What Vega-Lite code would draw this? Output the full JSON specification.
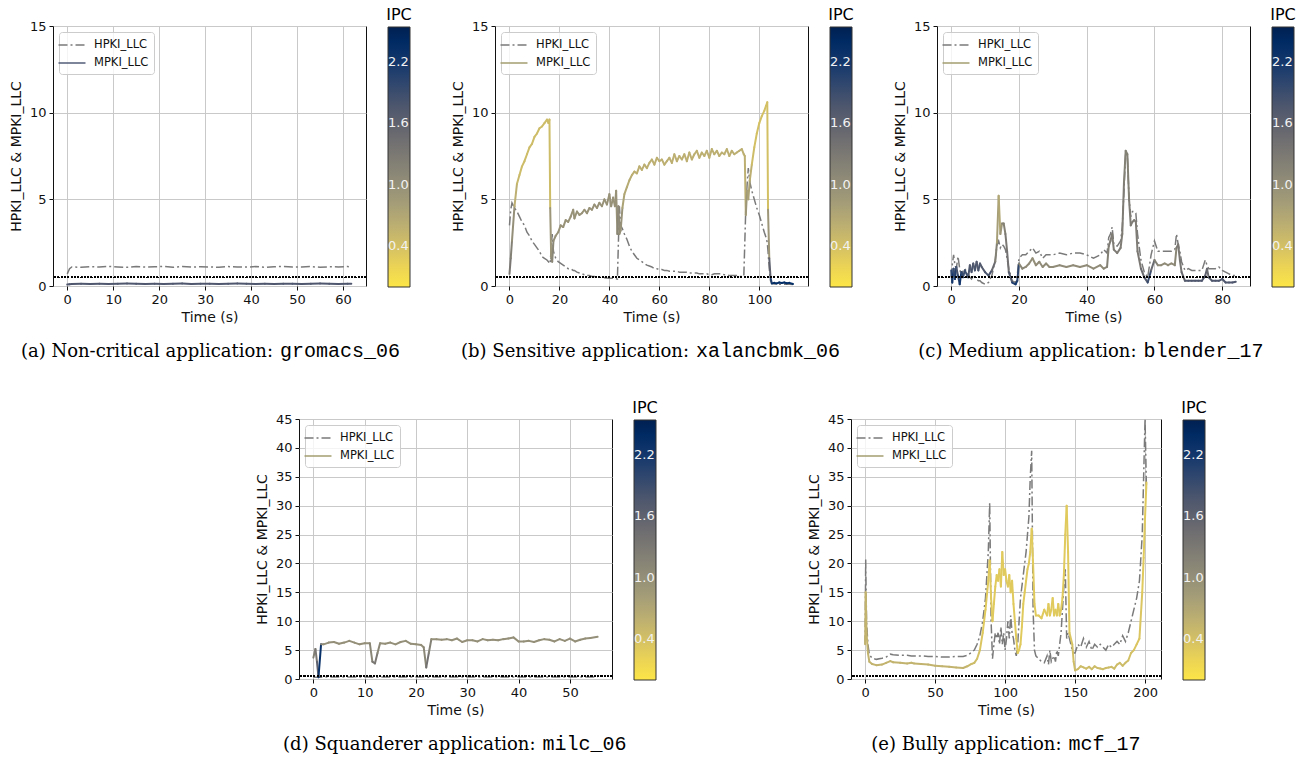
{
  "$schema": "https://vega.github.io/schema/vega-lite/v6.json",
  "padding": {"left": 8, "top": 6, "right": 5, "bottom": 5},
  "background": "white",
  "config": {
    "font": "DejaVu Sans",
    "axis": {"labelFont": "DejaVu Sans", "labelFontSize": 13, "labelColor": "#111", "titleFont": "DejaVu Sans", "titleFontSize": 14, "titleFontWeight": "normal", "titleColor": "#111", "domain": false, "tickColor": "#111", "tickSize": 4, "tickWidth": 1, "gridColor": "#c9c9c9", "gridWidth": 1, "labelPadding": 3, "titlePadding": 4, "labelFlush": false, "labelOverlap": false, "tickCount": 12},
    "axisY": {"titlePadding": 6},
    "legend": {"labelFont": "DejaVu Sans", "titleFont": "DejaVu Sans", "titleFontWeight": "normal", "titleColor": "#000", "padding": 0}
  },
  "datasets": {
    "a": [
      {"t":0,"h":0.7,"m":0.08,"ipc":1.75},{"t":0.5,"h":1.0,"m":0.1,"ipc":1.75},{"t":1,"h":1.1,"m":0.12,"ipc":1.75},{"t":3,"h":1.08,"m":0.13,"ipc":1.75},{"t":5,"h":1.12,"m":0.12,"ipc":1.75},{"t":7,"h":1.09,"m":0.13,"ipc":1.75},{"t":9,"h":1.13,"m":0.12,"ipc":1.75},{"t":11,"h":1.1,"m":0.13,"ipc":1.75},{"t":13,"h":1.08,"m":0.14,"ipc":1.75},{"t":15,"h":1.12,"m":0.13,"ipc":1.75},{"t":17,"h":1.09,"m":0.12,"ipc":1.75},{"t":19,"h":1.11,"m":0.13,"ipc":1.75},{"t":21,"h":1.13,"m":0.12,"ipc":1.75},{"t":23,"h":1.08,"m":0.13,"ipc":1.75},{"t":25,"h":1.12,"m":0.14,"ipc":1.75},{"t":27,"h":1.09,"m":0.12,"ipc":1.75},{"t":29,"h":1.11,"m":0.13,"ipc":1.75},{"t":31,"h":1.1,"m":0.13,"ipc":1.75},{"t":33,"h":1.08,"m":0.12,"ipc":1.75},{"t":35,"h":1.12,"m":0.13,"ipc":1.75},{"t":37,"h":1.1,"m":0.14,"ipc":1.75},{"t":39,"h":1.09,"m":0.13,"ipc":1.75},{"t":41,"h":1.12,"m":0.12,"ipc":1.75},{"t":43,"h":1.08,"m":0.13,"ipc":1.75},{"t":45,"h":1.11,"m":0.12,"ipc":1.75},{"t":47,"h":1.13,"m":0.13,"ipc":1.75},{"t":49,"h":1.09,"m":0.13,"ipc":1.75},{"t":51,"h":1.1,"m":0.12,"ipc":1.75},{"t":53,"h":1.12,"m":0.13,"ipc":1.75},{"t":55,"h":1.08,"m":0.14,"ipc":1.75},{"t":57,"h":1.11,"m":0.13,"ipc":1.75},{"t":59,"h":1.1,"m":0.12,"ipc":1.75},{"t":61,"h":1.12,"m":0.13,"ipc":1.75},{"t":61.8,"h":1.1,"m":0.13,"ipc":1.75}
    ],
    "b": [
      {"t":0,"h":3.5,"m":0.7,"ipc":1.3},{"t":0.5,"h":4.4,"m":1.6,"ipc":1.2},{"t":1,"h":4.8,"m":2.6,"ipc":1.0},{"t":2,"h":4.5,"m":4.6,"ipc":0.6},{"t":3,"h":4.3,"m":5.9,"ipc":0.5},{"t":4,"h":4.0,"m":6.4,"ipc":0.45},{"t":5,"h":3.7,"m":6.9,"ipc":0.45},{"t":6,"h":3.5,"m":7.2,"ipc":0.45},{"t":7,"h":3.1,"m":7.6,"ipc":0.45},{"t":8,"h":2.9,"m":8.0,"ipc":0.45},{"t":9,"h":2.6,"m":8.2,"ipc":0.45},{"t":10,"h":2.4,"m":8.6,"ipc":0.45},{"t":11,"h":2.2,"m":8.8,"ipc":0.45},{"t":12,"h":2.0,"m":9.1,"ipc":0.45},{"t":13,"h":1.7,"m":9.2,"ipc":0.45},{"t":14,"h":1.6,"m":9.4,"ipc":0.45},{"t":15,"h":1.5,"m":9.6,"ipc":0.45},{"t":15.6,"h":1.4,"m":9.4,"ipc":0.45},{"t":16,"h":1.3,"m":9.6,"ipc":0.45},{"t":16.3,"h":1.3,"m":4.5,"ipc":0.9},{"t":16.7,"h":2.2,"m":1.6,"ipc":1.1},{"t":17.1,"h":3.0,"m":1.4,"ipc":1.1},{"t":17.6,"h":2.0,"m":2.6,"ipc":1.0},{"t":18.5,"h":1.6,"m":2.9,"ipc":0.95},{"t":19.5,"h":1.4,"m":3.1,"ipc":0.95},{"t":20.5,"h":1.3,"m":3.5,"ipc":0.95},{"t":21.5,"h":1.2,"m":3.4,"ipc":0.95},{"t":22.5,"h":1.1,"m":3.8,"ipc":0.95},{"t":23.5,"h":1.0,"m":3.7,"ipc":0.95},{"t":24.5,"h":1.0,"m":4.0,"ipc":0.95},{"t":25.5,"h":0.9,"m":4.4,"ipc":0.95},{"t":26,"h":0.9,"m":3.9,"ipc":0.95},{"t":27,"h":0.8,"m":4.3,"ipc":0.95},{"t":28,"h":0.75,"m":4.1,"ipc":0.95},{"t":29,"h":0.7,"m":4.2,"ipc":0.95},{"t":30,"h":0.65,"m":4.4,"ipc":0.95},{"t":31,"h":0.6,"m":4.2,"ipc":0.95},{"t":32,"h":0.6,"m":4.5,"ipc":0.95},{"t":33,"h":0.55,"m":4.4,"ipc":0.95},{"t":34,"h":0.55,"m":4.7,"ipc":0.95},{"t":35,"h":0.5,"m":4.5,"ipc":0.95},{"t":36,"h":0.5,"m":4.8,"ipc":0.95},{"t":37,"h":0.5,"m":4.6,"ipc":0.95},{"t":38,"h":0.48,"m":5.0,"ipc":0.95},{"t":39,"h":0.46,"m":4.7,"ipc":0.95},{"t":40,"h":0.45,"m":5.3,"ipc":0.95},{"t":40.7,"h":0.45,"m":4.6,"ipc":0.95},{"t":41.5,"h":0.44,"m":5.1,"ipc":0.95},{"t":42.2,"h":0.43,"m":4.6,"ipc":0.95},{"t":42.7,"h":0.42,"m":5.5,"ipc":0.95},{"t":43.2,"h":0.4,"m":3.0,"ipc":1.1},{"t":43.6,"h":2.5,"m":4.6,"ipc":1.05},{"t":44,"h":4.6,"m":3.0,"ipc":1.0},{"t":44.5,"h":3.5,"m":3.2,"ipc":0.95},{"t":45.2,"h":3.3,"m":4.5,"ipc":0.75},{"t":46,"h":3.0,"m":5.3,"ipc":0.7},{"t":47,"h":2.7,"m":5.7,"ipc":0.65},{"t":48,"h":2.3,"m":6.1,"ipc":0.65},{"t":49,"h":2.0,"m":6.4,"ipc":0.6},{"t":50,"h":1.8,"m":6.6,"ipc":0.6},{"t":51,"h":1.6,"m":6.5,"ipc":0.6},{"t":52,"h":1.5,"m":6.9,"ipc":0.6},{"t":53,"h":1.4,"m":6.7,"ipc":0.6},{"t":54,"h":1.3,"m":7.0,"ipc":0.6},{"t":55,"h":1.2,"m":6.8,"ipc":0.6},{"t":56,"h":1.15,"m":7.1,"ipc":0.6},{"t":57,"h":1.1,"m":7.3,"ipc":0.6},{"t":58,"h":1.0,"m":7.0,"ipc":0.6},{"t":59,"h":1.0,"m":7.4,"ipc":0.6},{"t":60,"h":0.95,"m":7.2,"ipc":0.6},{"t":61,"h":0.95,"m":7.3,"ipc":0.6},{"t":62,"h":0.9,"m":7.0,"ipc":0.6},{"t":63,"h":0.9,"m":7.2,"ipc":0.6},{"t":64,"h":0.85,"m":7.4,"ipc":0.6},{"t":65,"h":0.85,"m":7.1,"ipc":0.6},{"t":66,"h":0.85,"m":7.6,"ipc":0.6},{"t":67,"h":0.85,"m":7.2,"ipc":0.6},{"t":68,"h":0.8,"m":7.5,"ipc":0.6},{"t":69,"h":0.8,"m":7.3,"ipc":0.6},{"t":70,"h":0.8,"m":7.6,"ipc":0.6},{"t":71,"h":0.8,"m":7.2,"ipc":0.6},{"t":72,"h":0.75,"m":7.7,"ipc":0.6},{"t":73,"h":0.75,"m":7.3,"ipc":0.6},{"t":74,"h":0.75,"m":7.6,"ipc":0.6},{"t":75,"h":0.75,"m":7.8,"ipc":0.6},{"t":76,"h":0.7,"m":7.4,"ipc":0.6},{"t":77,"h":0.7,"m":7.7,"ipc":0.6},{"t":78,"h":0.7,"m":7.5,"ipc":0.6},{"t":79,"h":0.7,"m":7.8,"ipc":0.6},{"t":80,"h":0.65,"m":7.4,"ipc":0.6},{"t":81,"h":0.65,"m":7.9,"ipc":0.6},{"t":82,"h":0.7,"m":7.6,"ipc":0.6},{"t":83,"h":0.7,"m":7.8,"ipc":0.6},{"t":84,"h":0.7,"m":7.5,"ipc":0.6},{"t":85,"h":0.7,"m":7.7,"ipc":0.6},{"t":86,"h":0.65,"m":7.6,"ipc":0.6},{"t":87,"h":0.65,"m":7.9,"ipc":0.6},{"t":88,"h":0.6,"m":7.5,"ipc":0.6},{"t":89,"h":0.6,"m":7.8,"ipc":0.6},{"t":90,"h":0.6,"m":7.6,"ipc":0.6},{"t":91,"h":0.6,"m":7.7,"ipc":0.6},{"t":92,"h":0.55,"m":7.8,"ipc":0.6},{"t":93,"h":0.55,"m":7.9,"ipc":0.6},{"t":93.8,"h":0.55,"m":7.6,"ipc":0.6},{"t":94.2,"h":2.5,"m":7.5,"ipc":0.6},{"t":94.6,"h":4.5,"m":4.1,"ipc":0.9},{"t":95.1,"h":5.8,"m":5.5,"ipc":0.8},{"t":95.6,"h":6.8,"m":5.0,"ipc":0.75},{"t":96.2,"h":6.0,"m":6.1,"ipc":0.6},{"t":97,"h":5.5,"m":7.0,"ipc":0.45},{"t":98,"h":5.0,"m":8.0,"ipc":0.4},{"t":99,"h":4.5,"m":8.8,"ipc":0.4},{"t":100,"h":4.1,"m":9.4,"ipc":0.4},{"t":101,"h":3.6,"m":9.8,"ipc":0.4},{"t":102,"h":3.1,"m":10.1,"ipc":0.4},{"t":102.7,"h":2.8,"m":10.4,"ipc":0.4},{"t":103.2,"h":2.5,"m":10.6,"ipc":0.4},{"t":103.5,"h":2.0,"m":4.4,"ipc":0.9},{"t":104,"h":1.0,"m":1.6,"ipc":1.6},{"t":104.5,"h":0.3,"m":0.5,"ipc":2.1},{"t":105,"h":0.15,"m":0.15,"ipc":2.3},{"t":106,"h":0.12,"m":0.18,"ipc":2.35},{"t":107,"h":0.12,"m":0.15,"ipc":2.35},{"t":108,"h":0.1,"m":0.2,"ipc":2.35},{"t":109,"h":0.1,"m":0.17,"ipc":2.35},{"t":110,"h":0.1,"m":0.2,"ipc":2.35},{"t":111,"h":0.1,"m":0.16,"ipc":2.35},{"t":112,"h":0.1,"m":0.18,"ipc":2.35},{"t":113.5,"h":0.08,"m":0.12,"ipc":2.35}
    ],
    "c": [
      {"t":0,"h":0.5,"m":0.9,"ipc":2.0},{"t":0.3,"h":1.2,"m":0.2,"ipc":2.2},{"t":0.7,"h":1.8,"m":1.0,"ipc":1.9},{"t":1.1,"h":1.2,"m":0.4,"ipc":2.1},{"t":1.5,"h":1.0,"m":1.1,"ipc":1.8},{"t":2,"h":1.7,"m":0.6,"ipc":2.0},{"t":2.5,"h":1.0,"m":0.1,"ipc":2.2},{"t":3,"h":0.5,"m":0.8,"ipc":2.0},{"t":3.5,"h":0.9,"m":0.5,"ipc":1.9},{"t":4,"h":1.0,"m":0.9,"ipc":1.9},{"t":5,"h":0.7,"m":0.5,"ipc":1.8},{"t":5.5,"h":0.5,"m":1.2,"ipc":1.7},{"t":6,"h":0.4,"m":0.8,"ipc":1.8},{"t":6.5,"h":0.6,"m":1.3,"ipc":1.7},{"t":7,"h":0.5,"m":0.9,"ipc":1.8},{"t":7.5,"h":0.4,"m":1.4,"ipc":1.7},{"t":8,"h":0.3,"m":0.9,"ipc":1.8},{"t":8.5,"h":0.3,"m":1.3,"ipc":1.7},{"t":9,"h":0.2,"m":1.1,"ipc":1.7},{"t":10,"h":0.1,"m":0.8,"ipc":1.8},{"t":11,"h":0.2,"m":0.6,"ipc":1.8},{"t":12,"h":0.6,"m":0.9,"ipc":1.5},{"t":13,"h":1.5,"m":1.4,"ipc":1.2},{"t":13.5,"h":2.4,"m":2.5,"ipc":0.8},{"t":14,"h":2.6,"m":5.2,"ipc":0.7},{"t":14.5,"h":2.2,"m":3.0,"ipc":0.9},{"t":15,"h":2.4,"m":3.6,"ipc":1.1},{"t":15.5,"h":2.3,"m":3.6,"ipc":1.2},{"t":16,"h":2.1,"m":3.0,"ipc":1.3},{"t":16.5,"h":1.6,"m":2.0,"ipc":1.4},{"t":17,"h":1.0,"m":0.8,"ipc":1.7},{"t":18,"h":0.3,"m":0.2,"ipc":2.1},{"t":19,"h":0.2,"m":0.1,"ipc":2.2},{"t":19.5,"h":0.6,"m":0.3,"ipc":2.0},{"t":20,"h":1.6,"m":1.3,"ipc":1.1},{"t":21,"h":1.8,"m":1.0,"ipc":1.1},{"t":22,"h":1.8,"m":1.1,"ipc":1.05},{"t":23,"h":2.0,"m":1.3,"ipc":1.05},{"t":24,"h":2.2,"m":1.6,"ipc":1.0},{"t":25,"h":1.9,"m":1.2,"ipc":1.05},{"t":26,"h":2.0,"m":1.4,"ipc":1.05},{"t":27,"h":1.6,"m":1.1,"ipc":1.05},{"t":28,"h":1.8,"m":1.3,"ipc":1.05},{"t":29,"h":1.8,"m":1.1,"ipc":1.05},{"t":30,"h":1.8,"m":1.1,"ipc":1.05},{"t":32,"h":1.9,"m":1.2,"ipc":1.05},{"t":34,"h":1.8,"m":1.1,"ipc":1.05},{"t":36,"h":1.9,"m":1.2,"ipc":1.05},{"t":38,"h":1.9,"m":1.1,"ipc":1.05},{"t":40,"h":1.8,"m":1.2,"ipc":1.05},{"t":42,"h":1.6,"m":1.0,"ipc":1.05},{"t":44,"h":1.8,"m":1.2,"ipc":1.05},{"t":45,"h":2.1,"m":1.0,"ipc":1.1},{"t":46,"h":1.9,"m":1.1,"ipc":1.2},{"t":46.5,"h":2.8,"m":2.3,"ipc":1.25},{"t":47,"h":3.0,"m":2.6,"ipc":1.25},{"t":47.5,"h":3.4,"m":3.0,"ipc":1.25},{"t":48,"h":2.4,"m":2.1,"ipc":1.25},{"t":49,"h":2.3,"m":1.9,"ipc":1.25},{"t":50,"h":2.6,"m":2.2,"ipc":1.25},{"t":50.5,"h":3.4,"m":3.0,"ipc":1.25},{"t":51,"h":5.5,"m":6.0,"ipc":1.2},{"t":51.5,"h":7.7,"m":7.8,"ipc":1.2},{"t":52,"h":7.5,"m":7.6,"ipc":1.2},{"t":52.5,"h":5.0,"m":5.0,"ipc":1.25},{"t":53,"h":4.0,"m":3.5,"ipc":1.25},{"t":53.5,"h":4.3,"m":3.7,"ipc":1.25},{"t":54,"h":4.3,"m":3.8,"ipc":1.25},{"t":54.5,"h":4.2,"m":3.7,"ipc":1.25},{"t":55,"h":3.0,"m":2.0,"ipc":1.3},{"t":56,"h":1.5,"m":1.0,"ipc":1.5},{"t":57,"h":0.8,"m":0.5,"ipc":1.7},{"t":58,"h":0.5,"m":0.2,"ipc":1.9},{"t":59,"h":1.8,"m":0.9,"ipc":1.5},{"t":60,"h":2.6,"m":1.5,"ipc":1.2},{"t":61,"h":2.0,"m":1.2,"ipc":1.05},{"t":62,"h":2.0,"m":1.2,"ipc":1.05},{"t":63,"h":2.0,"m":1.3,"ipc":1.05},{"t":64,"h":2.0,"m":1.2,"ipc":1.05},{"t":65,"h":2.0,"m":1.3,"ipc":1.05},{"t":66,"h":2.1,"m":1.2,"ipc":1.1},{"t":66.5,"h":3.0,"m":2.2,"ipc":1.3},{"t":67,"h":2.4,"m":2.4,"ipc":1.3},{"t":67.5,"h":2.0,"m":1.5,"ipc":1.35},{"t":68,"h":1.4,"m":0.8,"ipc":1.5},{"t":69,"h":0.9,"m":0.3,"ipc":1.7},{"t":70,"h":1.0,"m":0.3,"ipc":1.75},{"t":71,"h":0.9,"m":0.3,"ipc":1.75},{"t":72,"h":0.9,"m":0.3,"ipc":1.75},{"t":73,"h":0.9,"m":0.3,"ipc":1.75},{"t":74,"h":0.9,"m":0.3,"ipc":1.75},{"t":75,"h":1.5,"m":0.6,"ipc":1.6},{"t":75.5,"h":1.2,"m":1.0,"ipc":1.5},{"t":76,"h":1.0,"m":0.5,"ipc":1.7},{"t":77,"h":1.0,"m":0.3,"ipc":1.75},{"t":78,"h":1.0,"m":0.3,"ipc":1.75},{"t":79,"h":1.1,"m":0.3,"ipc":1.75},{"t":80,"h":0.9,"m":0.4,"ipc":1.75},{"t":81,"h":0.8,"m":0.2,"ipc":1.75},{"t":82,"h":0.7,"m":0.2,"ipc":1.75},{"t":83,"h":0.6,"m":0.2,"ipc":1.75},{"t":84,"h":0.6,"m":0.25,"ipc":1.75}
    ],
    "d": [
      {"t":0,"h":0.3,"m":3.7,"ipc":1.2},{"t":0.4,"h":0.3,"m":5.2,"ipc":1.3},{"t":0.7,"h":0.3,"m":3.0,"ipc":1.6},{"t":1.0,"h":0.3,"m":0.3,"ipc":2.3},{"t":1.5,"h":0.3,"m":6.0,"ipc":1.1},{"t":2,"h":0.35,"m":6.0,"ipc":1.0},{"t":3,"h":0.35,"m":6.3,"ipc":1.0},{"t":4,"h":0.35,"m":6.4,"ipc":1.0},{"t":5,"h":0.35,"m":6.1,"ipc":1.0},{"t":6,"h":0.35,"m":6.3,"ipc":1.0},{"t":7,"h":0.35,"m":6.6,"ipc":1.0},{"t":8,"h":0.35,"m":6.3,"ipc":1.0},{"t":9,"h":0.35,"m":6.0,"ipc":1.0},{"t":10,"h":0.35,"m":6.2,"ipc":1.0},{"t":11,"h":0.35,"m":6.2,"ipc":1.1},{"t":11.5,"h":0.3,"m":3.0,"ipc":1.3},{"t":12,"h":0.3,"m":2.7,"ipc":1.3},{"t":12.5,"h":0.3,"m":4.5,"ipc":1.1},{"t":13,"h":0.35,"m":6.2,"ipc":1.0},{"t":14,"h":0.35,"m":6.1,"ipc":1.0},{"t":15,"h":0.35,"m":6.3,"ipc":1.0},{"t":16,"h":0.35,"m":6.0,"ipc":1.0},{"t":17,"h":0.35,"m":6.4,"ipc":1.0},{"t":18,"h":0.35,"m":6.6,"ipc":1.0},{"t":19,"h":0.35,"m":6.1,"ipc":1.0},{"t":20,"h":0.35,"m":6.0,"ipc":1.0},{"t":21,"h":0.35,"m":5.9,"ipc":1.0},{"t":21.5,"h":0.35,"m":5.5,"ipc":1.1},{"t":22,"h":0.3,"m":2.0,"ipc":1.4},{"t":22.5,"h":0.3,"m":4.5,"ipc":1.2},{"t":23,"h":0.35,"m":6.9,"ipc":1.0},{"t":24,"h":0.35,"m":6.9,"ipc":1.0},{"t":25,"h":0.35,"m":6.8,"ipc":1.0},{"t":26,"h":0.35,"m":6.9,"ipc":1.0},{"t":27,"h":0.35,"m":6.7,"ipc":1.0},{"t":28,"h":0.35,"m":7.0,"ipc":1.0},{"t":29,"h":0.35,"m":6.4,"ipc":1.0},{"t":30,"h":0.35,"m":6.7,"ipc":1.0},{"t":31,"h":0.35,"m":6.7,"ipc":1.0},{"t":32,"h":0.35,"m":6.5,"ipc":1.0},{"t":33,"h":0.35,"m":6.9,"ipc":1.0},{"t":34,"h":0.35,"m":6.7,"ipc":1.0},{"t":35,"h":0.35,"m":6.8,"ipc":1.0},{"t":36,"h":0.35,"m":6.7,"ipc":1.0},{"t":37,"h":0.35,"m":6.9,"ipc":1.0},{"t":38,"h":0.35,"m":7.0,"ipc":1.0},{"t":39,"h":0.35,"m":7.2,"ipc":1.0},{"t":40,"h":0.35,"m":6.5,"ipc":1.0},{"t":41,"h":0.35,"m":6.5,"ipc":1.0},{"t":42,"h":0.35,"m":6.6,"ipc":1.0},{"t":43,"h":0.35,"m":6.4,"ipc":1.0},{"t":44,"h":0.35,"m":6.7,"ipc":1.0},{"t":45,"h":0.35,"m":6.9,"ipc":1.0},{"t":46,"h":0.35,"m":6.8,"ipc":1.0},{"t":47,"h":0.35,"m":6.5,"ipc":1.0},{"t":48,"h":0.35,"m":6.9,"ipc":1.0},{"t":49,"h":0.35,"m":6.6,"ipc":1.0},{"t":50,"h":0.35,"m":7.0,"ipc":1.0},{"t":51,"h":0.35,"m":6.5,"ipc":1.0},{"t":52,"h":0.35,"m":6.8,"ipc":1.0},{"t":53,"h":0.35,"m":7.0,"ipc":1.0},{"t":54,"h":0.35,"m":7.1,"ipc":1.0},{"t":55.4,"h":0.35,"m":7.3,"ipc":1.0}
    ],
    "e": [
      {"t":0,"h":6,"m":6,"ipc":0.55},{"t":0.4,"h":20.7,"m":15,"ipc":0.55},{"t":1,"h":10,"m":8,"ipc":0.55},{"t":2,"h":6,"m":4.5,"ipc":0.55},{"t":3,"h":4.2,"m":3.0,"ipc":0.55},{"t":5,"h":3.6,"m":2.6,"ipc":0.55},{"t":8,"h":3.4,"m":2.4,"ipc":0.55},{"t":12,"h":3.6,"m":2.5,"ipc":0.55},{"t":15,"h":3.8,"m":2.8,"ipc":0.55},{"t":18,"h":4.3,"m":3.1,"ipc":0.55},{"t":20,"h":4.2,"m":2.9,"ipc":0.55},{"t":25,"h":4.1,"m":2.8,"ipc":0.55},{"t":30,"h":4.1,"m":2.7,"ipc":0.55},{"t":33,"h":4.0,"m":2.8,"ipc":0.55},{"t":35,"h":4.0,"m":2.7,"ipc":0.55},{"t":40,"h":4.0,"m":2.6,"ipc":0.55},{"t":45,"h":3.9,"m":2.5,"ipc":0.55},{"t":50,"h":3.9,"m":2.3,"ipc":0.55},{"t":55,"h":3.8,"m":2.2,"ipc":0.55},{"t":60,"h":3.8,"m":2.1,"ipc":0.55},{"t":65,"h":3.9,"m":2.0,"ipc":0.55},{"t":70,"h":3.9,"m":1.9,"ipc":0.55},{"t":73,"h":4.1,"m":2.2,"ipc":0.5},{"t":76,"h":4.6,"m":2.6,"ipc":0.45},{"t":78,"h":5.0,"m":2.8,"ipc":0.45},{"t":80,"h":6.0,"m":3.5,"ipc":0.4},{"t":82,"h":7.5,"m":5.0,"ipc":0.35},{"t":84,"h":10,"m":8,"ipc":0.3},{"t":86,"h":14,"m":12,"ipc":0.3},{"t":88,"h":22,"m":17,"ipc":0.3},{"t":89,"h":30.5,"m":20.5,"ipc":0.3},{"t":90,"h":10,"m":14,"ipc":0.3},{"t":91,"h":3.5,"m":10,"ipc":0.3},{"t":92,"h":6,"m":13,"ipc":0.3},{"t":93,"h":8,"m":16,"ipc":0.3},{"t":94,"h":7,"m":18,"ipc":0.3},{"t":95,"h":8,"m":17,"ipc":0.3},{"t":96,"h":6,"m":19,"ipc":0.3},{"t":97,"h":9,"m":16,"ipc":0.3},{"t":98,"h":6,"m":22,"ipc":0.3},{"t":99,"h":8,"m":18,"ipc":0.3},{"t":100,"h":5,"m":19,"ipc":0.3},{"t":101,"h":7,"m":17,"ipc":0.3},{"t":102,"h":10,"m":16,"ipc":0.3},{"t":103,"h":7,"m":18,"ipc":0.3},{"t":104,"h":11,"m":15,"ipc":0.3},{"t":105,"h":8,"m":17,"ipc":0.3},{"t":106,"h":7,"m":13,"ipc":0.3},{"t":107,"h":5,"m":10,"ipc":0.3},{"t":108,"h":4,"m":7,"ipc":0.3},{"t":109,"h":6,"m":4.5,"ipc":0.3},{"t":110,"h":10,"m":5,"ipc":0.3},{"t":111,"h":14,"m":6,"ipc":0.3},{"t":112,"h":16,"m":9,"ipc":0.3},{"t":113,"h":18,"m":13,"ipc":0.3},{"t":114,"h":20,"m":15,"ipc":0.3},{"t":115,"h":22,"m":17,"ipc":0.3},{"t":116,"h":25,"m":19,"ipc":0.3},{"t":117,"h":28,"m":20,"ipc":0.3},{"t":118,"h":35,"m":22,"ipc":0.3},{"t":119,"h":39.5,"m":26,"ipc":0.3},{"t":120,"h":12,"m":20,"ipc":0.3},{"t":121,"h":5,"m":13,"ipc":0.3},{"t":122,"h":4,"m":11,"ipc":0.3},{"t":124,"h":3.5,"m":11,"ipc":0.3},{"t":126,"h":3,"m":10.5,"ipc":0.3},{"t":128,"h":2.8,"m":12,"ipc":0.3},{"t":130,"h":4,"m":11,"ipc":0.3},{"t":131,"h":2.5,"m":13,"ipc":0.3},{"t":132,"h":5,"m":11,"ipc":0.3},{"t":133,"h":3,"m":12,"ipc":0.3},{"t":134,"h":3.5,"m":14,"ipc":0.3},{"t":135,"h":4,"m":11,"ipc":0.3},{"t":136,"h":3,"m":12,"ipc":0.3},{"t":137,"h":5,"m":11,"ipc":0.3},{"t":138,"h":4,"m":13,"ipc":0.3},{"t":139,"h":6,"m":11,"ipc":0.3},{"t":140,"h":8,"m":12,"ipc":0.3},{"t":141,"h":12,"m":14,"ipc":0.3},{"t":142,"h":16,"m":18,"ipc":0.3},{"t":143,"h":19,"m":25,"ipc":0.3},{"t":144,"h":7,"m":30,"ipc":0.3},{"t":145,"h":8,"m":22,"ipc":0.3},{"t":146,"h":7,"m":8,"ipc":0.35},{"t":148,"h":5,"m":6,"ipc":0.4},{"t":149,"h":4.5,"m":3,"ipc":0.45},{"t":150,"h":4.5,"m":1.5,"ipc":0.45},{"t":152,"h":6,"m":1.7,"ipc":0.45},{"t":154,"h":5.5,"m":2.2,"ipc":0.45},{"t":156,"h":7,"m":2.0,"ipc":0.45},{"t":158,"h":5.5,"m":1.8,"ipc":0.45},{"t":160,"h":6.5,"m":2.1,"ipc":0.45},{"t":162,"h":5,"m":1.7,"ipc":0.45},{"t":164,"h":6,"m":2.2,"ipc":0.45},{"t":166,"h":5.5,"m":1.9,"ipc":0.45},{"t":168,"h":6,"m":1.8,"ipc":0.45},{"t":170,"h":5.5,"m":1.7,"ipc":0.45},{"t":172,"h":5,"m":1.9,"ipc":0.45},{"t":174,"h":6,"m":2.0,"ipc":0.45},{"t":176,"h":5.5,"m":2.1,"ipc":0.45},{"t":178,"h":6,"m":1.8,"ipc":0.45},{"t":180,"h":6.5,"m":2.5,"ipc":0.45},{"t":182,"h":6,"m":2.8,"ipc":0.45},{"t":184,"h":7.5,"m":2.3,"ipc":0.45},{"t":186,"h":6.5,"m":2.8,"ipc":0.45},{"t":188,"h":8,"m":3.2,"ipc":0.4},{"t":190,"h":10,"m":4.5,"ipc":0.4},{"t":192,"h":12,"m":5,"ipc":0.35},{"t":194,"h":14,"m":6,"ipc":0.35},{"t":196,"h":17,"m":7,"ipc":0.35},{"t":198,"h":25,"m":15,"ipc":0.3},{"t":199,"h":35,"m":21,"ipc":0.3},{"t":200,"h":45,"m":28,"ipc":0.3},{"t":201,"h":33,"m":34,"ipc":0.3}
    ]
  },
  "resolve": {"scale": {"color": "independent", "stroke": "independent", "strokeDash": "independent"}},
  "vconcat": [
    {
      "resolve": {"scale": {"color": "independent", "stroke": "independent", "strokeDash": "independent"}},
      "hconcat": [
        {
          "resolve": {"scale": {"color": "independent", "stroke": "independent", "strokeDash": "independent"}},
          "vconcat": [
            {
              "width": 313, "height": 260, "view": {"stroke": "#111"},
              "data": {"name": "a"},
              "layer": [
                {"mark": {"type": "line", "strokeWidth": 1.5},
                 "encoding": {
                   "x": {"field": "t", "type": "quantitative", "scale": {"domain": [-3.1, 65.0], "nice": false, "zero": false}, "axis": {"values": [0,10,20,30,40,50,60], "title": "Time (s)"}},
                   "y": {"field": "h", "type": "quantitative", "scale": {"domain": [0, 15], "nice": false}, "axis": {"values": [0,5,10,15], "title": "HPKI_LLC & MPKI_LLC"}},
                   "stroke": {"datum": "HPKI_LLC", "scale": {"domain": ["HPKI_LLC","MPKI_LLC"], "range": ["#7a7a7a","#525c7a"]}, "legend": {"orient": "top-left", "offset": 6, "title": null, "padding": 5, "strokeColor": "#cccccc", "fillColor": "rgba(255,255,255,0.8)", "cornerRadius": 3, "symbolType": "M-2,0L2,0", "symbolSize": 182, "symbolStrokeWidth": 1.6, "labelFontSize": 11.5, "labelColor": "#111", "labelOffset": 14, "rowPadding": 4}},
                   "strokeDash": {"datum": "HPKI_LLC", "scale": {"domain": ["HPKI_LLC","MPKI_LLC"], "range": [[9,3,2,3],[1,0]]}, "legend": {"orient": "top-left", "offset": 6, "title": null, "padding": 5, "strokeColor": "#cccccc", "fillColor": "rgba(255,255,255,0.8)", "cornerRadius": 3, "symbolType": "M-2,0L2,0", "symbolSize": 182, "symbolStrokeWidth": 1.6, "labelFontSize": 11.5, "labelColor": "#111", "labelOffset": 14, "rowPadding": 4}}
                 }},
                {"transform": [{"window": [{"op": "lead", "field": "t", "as": "t2"}, {"op": "lead", "field": "m", "as": "m2"}], "sort": [{"field": "t"}]}, {"filter": "isValid(datum.t2)"}],
                 "mark": {"type": "rule", "strokeWidth": 2, "strokeCap": "round"},
                 "encoding": {
                   "x": {"field": "t", "type": "quantitative", "axis": {"values": [0,10,20,30,40,50,60], "title": "Time (s)"}},
                   "x2": {"field": "t2"},
                   "y": {"field": "m", "type": "quantitative", "axis": {"values": [0,5,10,15], "title": "HPKI_LLC & MPKI_LLC"}},
                   "y2": {"field": "m2"},
                   "color": {"field": "ipc", "type": "quantitative", "scale": {"scheme": "cividis", "reverse": true, "domain": [0, 2.54]}, "legend": {"orient": "none", "legendX": 333, "legendY": -19, "direction": "vertical", "title": "IPC", "titleFontSize": 16, "titlePadding": 4, "titleAnchor": "middle", "values": [0.4, 1.0, 1.6, 2.2], "format": ".1f", "gradientLength": 260, "gradientThickness": 22, "gradientStrokeColor": "#333", "gradientStrokeWidth": 1, "labelOffset": -22, "labelColor": "#f2f2f2", "labelFontSize": 13}}
                 }},
                {"mark": {"type": "rule", "color": "black", "strokeWidth": 1.3, "strokeDash": [1.3, 2]}, "encoding": {"y": {"datum": 0.5}}}
              ]
            },
            {
              "width": 313, "height": 16, "view": {"stroke": null},
              "data": {"values": [{"lbl": "(a) Non-critical application:", "app": "gromacs_06"}]},
              "layer": [
                {"mark": {"type": "text", "align": "right", "baseline": "alphabetic", "font": "DejaVu Serif", "fontSize": 18, "color": "black", "dx": 63.5}, "encoding": {"text": {"field": "lbl"}}},
                {"mark": {"type": "text", "align": "left", "baseline": "alphabetic", "font": "Liberation Mono", "fontSize": 20, "color": "black", "dx": 70.5}, "encoding": {"text": {"field": "app"}}}
              ]
            }
          ],
          "spacing": 16
        },
        {
          "resolve": {"scale": {"color": "independent", "stroke": "independent", "strokeDash": "independent"}},
          "vconcat": [
            {
              "width": 313, "height": 260, "view": {"stroke": "#111"},
              "data": {"name": "b"},
              "layer": [
                {"mark": {"type": "line", "strokeWidth": 1.5},
                 "encoding": {
                   "x": {"field": "t", "type": "quantitative", "scale": {"domain": [-5.8, 119.5], "nice": false, "zero": false}, "axis": {"values": [0,20,40,60,80,100], "title": "Time (s)"}},
                   "y": {"field": "h", "type": "quantitative", "scale": {"domain": [0, 15], "nice": false}, "axis": {"values": [0,5,10,15], "title": "HPKI_LLC & MPKI_LLC"}},
                   "stroke": {"datum": "HPKI_LLC", "scale": {"domain": ["HPKI_LLC","MPKI_LLC"], "range": ["#7a7a7a","#a39d6f"]}, "legend": {"orient": "top-left", "offset": 6, "title": null, "padding": 5, "strokeColor": "#cccccc", "fillColor": "rgba(255,255,255,0.8)", "cornerRadius": 3, "symbolType": "M-2,0L2,0", "symbolSize": 182, "symbolStrokeWidth": 1.6, "labelFontSize": 11.5, "labelColor": "#111", "labelOffset": 14, "rowPadding": 4}},
                   "strokeDash": {"datum": "HPKI_LLC", "scale": {"domain": ["HPKI_LLC","MPKI_LLC"], "range": [[9,3,2,3],[1,0]]}, "legend": {"orient": "top-left", "offset": 6, "title": null, "padding": 5, "strokeColor": "#cccccc", "fillColor": "rgba(255,255,255,0.8)", "cornerRadius": 3, "symbolType": "M-2,0L2,0", "symbolSize": 182, "symbolStrokeWidth": 1.6, "labelFontSize": 11.5, "labelColor": "#111", "labelOffset": 14, "rowPadding": 4}}
                 }},
                {"transform": [{"window": [{"op": "lead", "field": "t", "as": "t2"}, {"op": "lead", "field": "m", "as": "m2"}], "sort": [{"field": "t"}]}, {"filter": "isValid(datum.t2)"}],
                 "mark": {"type": "rule", "strokeWidth": 2, "strokeCap": "round"},
                 "encoding": {
                   "x": {"field": "t", "type": "quantitative", "axis": {"values": [0,20,40,60,80,100], "title": "Time (s)"}},
                   "x2": {"field": "t2"},
                   "y": {"field": "m", "type": "quantitative", "axis": {"values": [0,5,10,15], "title": "HPKI_LLC & MPKI_LLC"}},
                   "y2": {"field": "m2"},
                   "color": {"field": "ipc", "type": "quantitative", "scale": {"scheme": "cividis", "reverse": true, "domain": [0, 2.54]}, "legend": {"orient": "none", "legendX": 333, "legendY": -19, "direction": "vertical", "title": "IPC", "titleFontSize": 16, "titlePadding": 4, "titleAnchor": "middle", "values": [0.4, 1.0, 1.6, 2.2], "format": ".1f", "gradientLength": 260, "gradientThickness": 22, "gradientStrokeColor": "#333", "gradientStrokeWidth": 1, "labelOffset": -22, "labelColor": "#f2f2f2", "labelFontSize": 13}}
                 }},
                {"mark": {"type": "rule", "color": "black", "strokeWidth": 1.3, "strokeDash": [1.3, 2]}, "encoding": {"y": {"datum": 0.5}}}
              ]
            },
            {
              "width": 313, "height": 16, "view": {"stroke": null},
              "data": {"values": [{"lbl": "(b) Sensitive application:", "app": "xalancbmk_06"}]},
              "layer": [
                {"mark": {"type": "text", "align": "right", "baseline": "alphabetic", "font": "DejaVu Serif", "fontSize": 18, "color": "black", "dx": 37.5}, "encoding": {"text": {"field": "lbl"}}},
                {"mark": {"type": "text", "align": "left", "baseline": "alphabetic", "font": "Liberation Mono", "fontSize": 20, "color": "black", "dx": 44.5}, "encoding": {"text": {"field": "app"}}}
              ]
            }
          ],
          "spacing": 16
        },
        {
          "resolve": {"scale": {"color": "independent", "stroke": "independent", "strokeDash": "independent"}},
          "vconcat": [
            {
              "width": 313, "height": 260, "view": {"stroke": "#111"},
              "data": {"name": "c"},
              "layer": [
                {"mark": {"type": "line", "strokeWidth": 1.5},
                 "encoding": {
                   "x": {"field": "t", "type": "quantitative", "scale": {"domain": [-4.2, 88.2], "nice": false, "zero": false}, "axis": {"values": [0,20,40,60,80], "title": "Time (s)"}},
                   "y": {"field": "h", "type": "quantitative", "scale": {"domain": [0, 15], "nice": false}, "axis": {"values": [0,5,10,15], "title": "HPKI_LLC & MPKI_LLC"}},
                   "stroke": {"datum": "HPKI_LLC", "scale": {"domain": ["HPKI_LLC","MPKI_LLC"], "range": ["#7a7a7a","#a39d6f"]}, "legend": {"orient": "top-left", "offset": 6, "title": null, "padding": 5, "strokeColor": "#cccccc", "fillColor": "rgba(255,255,255,0.8)", "cornerRadius": 3, "symbolType": "M-2,0L2,0", "symbolSize": 182, "symbolStrokeWidth": 1.6, "labelFontSize": 11.5, "labelColor": "#111", "labelOffset": 14, "rowPadding": 4}},
                   "strokeDash": {"datum": "HPKI_LLC", "scale": {"domain": ["HPKI_LLC","MPKI_LLC"], "range": [[9,3,2,3],[1,0]]}, "legend": {"orient": "top-left", "offset": 6, "title": null, "padding": 5, "strokeColor": "#cccccc", "fillColor": "rgba(255,255,255,0.8)", "cornerRadius": 3, "symbolType": "M-2,0L2,0", "symbolSize": 182, "symbolStrokeWidth": 1.6, "labelFontSize": 11.5, "labelColor": "#111", "labelOffset": 14, "rowPadding": 4}}
                 }},
                {"transform": [{"window": [{"op": "lead", "field": "t", "as": "t2"}, {"op": "lead", "field": "m", "as": "m2"}], "sort": [{"field": "t"}]}, {"filter": "isValid(datum.t2)"}],
                 "mark": {"type": "rule", "strokeWidth": 2, "strokeCap": "round"},
                 "encoding": {
                   "x": {"field": "t", "type": "quantitative", "axis": {"values": [0,20,40,60,80], "title": "Time (s)"}},
                   "x2": {"field": "t2"},
                   "y": {"field": "m", "type": "quantitative", "axis": {"values": [0,5,10,15], "title": "HPKI_LLC & MPKI_LLC"}},
                   "y2": {"field": "m2"},
                   "color": {"field": "ipc", "type": "quantitative", "scale": {"scheme": "cividis", "reverse": true, "domain": [0, 2.54]}, "legend": {"orient": "none", "legendX": 333, "legendY": -19, "direction": "vertical", "title": "IPC", "titleFontSize": 16, "titlePadding": 4, "titleAnchor": "middle", "values": [0.4, 1.0, 1.6, 2.2], "format": ".1f", "gradientLength": 260, "gradientThickness": 22, "gradientStrokeColor": "#333", "gradientStrokeWidth": 1, "labelOffset": -22, "labelColor": "#f2f2f2", "labelFontSize": 13}}
                 }},
                {"mark": {"type": "rule", "color": "black", "strokeWidth": 1.3, "strokeDash": [1.3, 2]}, "encoding": {"y": {"datum": 0.5}}}
              ]
            },
            {
              "width": 313, "height": 16, "view": {"stroke": null},
              "data": {"values": [{"lbl": "(c) Medium application:", "app": "blender_17"}]},
              "layer": [
                {"mark": {"type": "text", "align": "right", "baseline": "alphabetic", "font": "DejaVu Serif", "fontSize": 18, "color": "black", "dx": 43}, "encoding": {"text": {"field": "lbl"}}},
                {"mark": {"type": "text", "align": "left", "baseline": "alphabetic", "font": "Liberation Mono", "fontSize": 20, "color": "black", "dx": 50}, "encoding": {"text": {"field": "app"}}}
              ]
            }
          ],
          "spacing": 16
        }
      ],
      "spacing": 37
    },
    {
      "resolve": {"scale": {"color": "independent", "stroke": "independent", "strokeDash": "independent"}},
      "hconcat": [
        {"width": 54, "height": 10, "view": {"stroke": null}, "data": {"values": []}, "mark": "point"},
        {
          "resolve": {"scale": {"color": "independent", "stroke": "independent", "strokeDash": "independent"}},
          "vconcat": [
            {
              "width": 313, "height": 260, "view": {"stroke": "#111"},
              "data": {"name": "d"},
              "layer": [
                {"mark": {"type": "line", "strokeWidth": 1.5},
                 "encoding": {
                   "x": {"field": "t", "type": "quantitative", "scale": {"domain": [-2.8, 58.2], "nice": false, "zero": false}, "axis": {"values": [0,10,20,30,40,50], "title": "Time (s)"}},
                   "y": {"field": "h", "type": "quantitative", "scale": {"domain": [0, 45], "nice": false}, "axis": {"values": [0,5,10,15,20,25,30,35,40,45], "tickCount": 12, "title": "HPKI_LLC & MPKI_LLC"}},
                   "stroke": {"datum": "HPKI_LLC", "scale": {"domain": ["HPKI_LLC","MPKI_LLC"], "range": ["#7a7a7a","#a39d6f"]}, "legend": {"orient": "top-left", "offset": 6, "title": null, "padding": 5, "strokeColor": "#cccccc", "fillColor": "rgba(255,255,255,0.8)", "cornerRadius": 3, "symbolType": "M-2,0L2,0", "symbolSize": 182, "symbolStrokeWidth": 1.6, "labelFontSize": 11.5, "labelColor": "#111", "labelOffset": 14, "rowPadding": 4}},
                   "strokeDash": {"datum": "HPKI_LLC", "scale": {"domain": ["HPKI_LLC","MPKI_LLC"], "range": [[9,3,2,3],[1,0]]}, "legend": {"orient": "top-left", "offset": 6, "title": null, "padding": 5, "strokeColor": "#cccccc", "fillColor": "rgba(255,255,255,0.8)", "cornerRadius": 3, "symbolType": "M-2,0L2,0", "symbolSize": 182, "symbolStrokeWidth": 1.6, "labelFontSize": 11.5, "labelColor": "#111", "labelOffset": 14, "rowPadding": 4}}
                 }},
                {"transform": [{"window": [{"op": "lead", "field": "t", "as": "t2"}, {"op": "lead", "field": "m", "as": "m2"}], "sort": [{"field": "t"}]}, {"filter": "isValid(datum.t2)"}],
                 "mark": {"type": "rule", "strokeWidth": 2, "strokeCap": "round"},
                 "encoding": {
                   "x": {"field": "t", "type": "quantitative", "axis": {"values": [0,10,20,30,40,50], "title": "Time (s)"}},
                   "x2": {"field": "t2"},
                   "y": {"field": "m", "type": "quantitative", "axis": {"values": [0,5,10,15,20,25,30,35,40,45], "tickCount": 12, "title": "HPKI_LLC & MPKI_LLC"}},
                   "y2": {"field": "m2"},
                   "color": {"field": "ipc", "type": "quantitative", "scale": {"scheme": "cividis", "reverse": true, "domain": [0, 2.54]}, "legend": {"orient": "none", "legendX": 333, "legendY": -19, "direction": "vertical", "title": "IPC", "titleFontSize": 16, "titlePadding": 4, "titleAnchor": "middle", "values": [0.4, 1.0, 1.6, 2.2], "format": ".1f", "gradientLength": 260, "gradientThickness": 22, "gradientStrokeColor": "#333", "gradientStrokeWidth": 1, "labelOffset": -22, "labelColor": "#f2f2f2", "labelFontSize": 13}}
                 }},
                {"mark": {"type": "rule", "color": "black", "strokeWidth": 1.3, "strokeDash": [1.3, 2]}, "encoding": {"y": {"datum": 0.5}}}
              ]
            },
            {
              "width": 313, "height": 16, "view": {"stroke": null},
              "data": {"values": [{"lbl": "(d) Squanderer application:", "app": "milc_06"}]},
              "layer": [
                {"mark": {"type": "text", "align": "right", "baseline": "alphabetic", "font": "DejaVu Serif", "fontSize": 18, "color": "black", "dx": 80}, "encoding": {"text": {"field": "lbl"}}},
                {"mark": {"type": "text", "align": "left", "baseline": "alphabetic", "font": "Liberation Mono", "fontSize": 20, "color": "black", "dx": 87}, "encoding": {"text": {"field": "app"}}}
              ]
            }
          ],
          "spacing": 16
        },
        {
          "resolve": {"scale": {"color": "independent", "stroke": "independent", "strokeDash": "independent"}},
          "vconcat": [
            {
              "width": 310, "height": 260, "view": {"stroke": "#111"},
              "data": {"name": "e"},
              "layer": [
                {"mark": {"type": "line", "strokeWidth": 1.5},
                 "encoding": {
                   "x": {"field": "t", "type": "quantitative", "scale": {"domain": [-10.1, 211.4], "nice": false, "zero": false}, "axis": {"values": [0,50,100,150,200], "title": "Time (s)"}},
                   "y": {"field": "h", "type": "quantitative", "scale": {"domain": [0, 45], "nice": false}, "axis": {"values": [0,5,10,15,20,25,30,35,40,45], "tickCount": 12, "title": "HPKI_LLC & MPKI_LLC"}},
                   "stroke": {"datum": "HPKI_LLC", "scale": {"domain": ["HPKI_LLC","MPKI_LLC"], "range": ["#7a7a7a","#a39d6f"]}, "legend": {"orient": "top-left", "offset": 6, "title": null, "padding": 5, "strokeColor": "#cccccc", "fillColor": "rgba(255,255,255,0.8)", "cornerRadius": 3, "symbolType": "M-2,0L2,0", "symbolSize": 182, "symbolStrokeWidth": 1.6, "labelFontSize": 11.5, "labelColor": "#111", "labelOffset": 14, "rowPadding": 4}},
                   "strokeDash": {"datum": "HPKI_LLC", "scale": {"domain": ["HPKI_LLC","MPKI_LLC"], "range": [[9,3,2,3],[1,0]]}, "legend": {"orient": "top-left", "offset": 6, "title": null, "padding": 5, "strokeColor": "#cccccc", "fillColor": "rgba(255,255,255,0.8)", "cornerRadius": 3, "symbolType": "M-2,0L2,0", "symbolSize": 182, "symbolStrokeWidth": 1.6, "labelFontSize": 11.5, "labelColor": "#111", "labelOffset": 14, "rowPadding": 4}}
                 }},
                {"transform": [{"window": [{"op": "lead", "field": "t", "as": "t2"}, {"op": "lead", "field": "m", "as": "m2"}], "sort": [{"field": "t"}]}, {"filter": "isValid(datum.t2)"}],
                 "mark": {"type": "rule", "strokeWidth": 2, "strokeCap": "round"},
                 "encoding": {
                   "x": {"field": "t", "type": "quantitative", "axis": {"values": [0,50,100,150,200], "title": "Time (s)"}},
                   "x2": {"field": "t2"},
                   "y": {"field": "m", "type": "quantitative", "axis": {"values": [0,5,10,15,20,25,30,35,40,45], "tickCount": 12, "title": "HPKI_LLC & MPKI_LLC"}},
                   "y2": {"field": "m2"},
                   "color": {"field": "ipc", "type": "quantitative", "scale": {"scheme": "cividis", "reverse": true, "domain": [0, 2.54]}, "legend": {"orient": "none", "legendX": 330, "legendY": -19, "direction": "vertical", "title": "IPC", "titleFontSize": 16, "titlePadding": 4, "titleAnchor": "middle", "values": [0.4, 1.0, 1.6, 2.2], "format": ".1f", "gradientLength": 260, "gradientThickness": 22, "gradientStrokeColor": "#333", "gradientStrokeWidth": 1, "labelOffset": -22, "labelColor": "#f2f2f2", "labelFontSize": 13}}
                 }},
                {"mark": {"type": "rule", "color": "black", "strokeWidth": 1.3, "strokeDash": [1.3, 2]}, "encoding": {"y": {"datum": 0.5}}}
              ]
            },
            {
              "width": 310, "height": 16, "view": {"stroke": null},
              "data": {"values": [{"lbl": "(e) Bully application:", "app": "mcf_17"}]},
              "layer": [
                {"mark": {"type": "text", "align": "right", "baseline": "alphabetic", "font": "DejaVu Serif", "fontSize": 18, "color": "black", "dx": 55.5}, "encoding": {"text": {"field": "lbl"}}},
                {"mark": {"type": "text", "align": "left", "baseline": "alphabetic", "font": "Liberation Mono", "fontSize": 20, "color": "black", "dx": 62.5}, "encoding": {"text": {"field": "app"}}}
              ]
            }
          ],
          "spacing": 16
        }
      ],
      "spacing": 147
    }
  ],
  "spacing": 34
}
